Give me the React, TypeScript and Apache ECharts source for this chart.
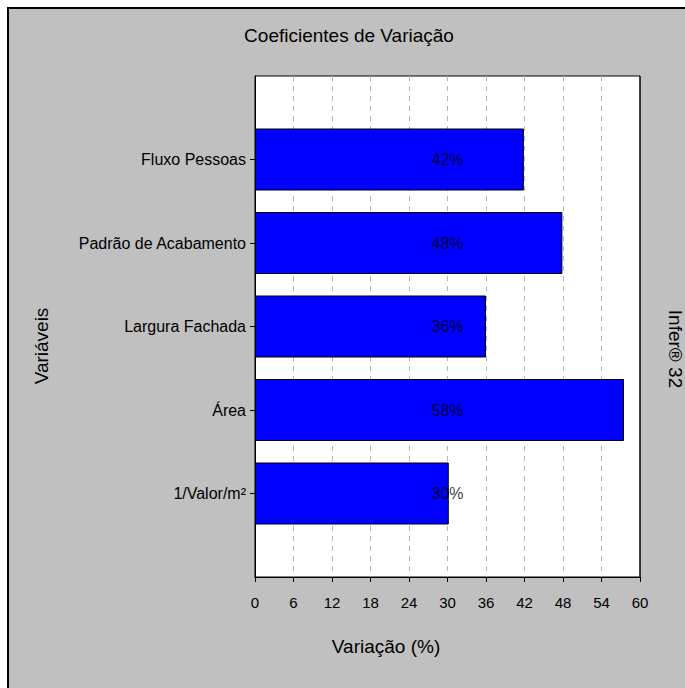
import React, { useEffect, useRef } from "react";
import * as echarts from "echarts";

const categories = ["Fluxo Pessoas", "Padrão de Acabamento", "Largura Fachada", "Área", "1/Valor/m²"];
const values = [41.9, 47.9, 36, 57.5, 30.2];
const labelTexts = ["42%", "48%", "36%", "58%", "30%"];
const xTicks = { min: 0, max: 60, interval: 6 };
const title = "Coeficientes de Variação";
const xName = "Variação (%)";
const yName = "Variáveis";
const sideText = "Infer® 32";

const FONT = "Arial, 'Liberation Sans', sans-serif";

export default function App() {
  const ref = useRef<HTMLDivElement>(null);
  useEffect(() => {
    if (!ref.current) return;
    const chart = echarts.init(ref.current, undefined, { renderer: "svg" });
    const yCats = ["", ...categories, ""];
    const barData = [null, ...values, null];
    const labelData = categories.map((c, i) => ({ value: [(xTicks.min + xTicks.max) / 2, c], name: labelTexts[i] }));
    chart.setOption({
      animation: false,
      backgroundColor: "#ffffff",
      textStyle: { fontFamily: FONT },
      graphic: [
        {
          type: "rect",
          z: -10,
          silent: true,
          shape: { x: 8, y: 8, width: 900, height: 900 },
          style: { fill: "#c0c0c0", stroke: "#000000", lineWidth: 2 },
        },
        {
          type: "text",
          x: 349,
          y: 35,
          style: { text: title, fill: "#000", font: `19px ${FONT}`, align: "center", verticalAlign: "middle" },
        },
        {
          type: "text",
          x: 386,
          y: 646,
          style: { text: xName, fill: "#000", font: `19px ${FONT}`, align: "center", verticalAlign: "middle" },
        },
        {
          type: "text",
          x: 41,
          y: 346,
          rotation: Math.PI / 2,
          style: { text: yName, fill: "#000", font: `19px ${FONT}`, align: "center", verticalAlign: "middle" },
        },
        {
          type: "text",
          x: 675,
          y: 349,
          rotation: -Math.PI / 2,
          style: { text: sideText, fill: "#000", font: `19px ${FONT}`, align: "center", verticalAlign: "middle" },
        },
        {
          type: "line",
          z: 50,
          silent: true,
          shape: { x1: 640, y1: 76, x2: 640, y2: 577 },
          style: { stroke: "#000", lineWidth: 1 },
        },
      ],
      grid: {
        left: 255,
        top: 76,
        width: 385,
        height: 501,
        show: true,
        backgroundColor: "#ffffff",
        borderColor: "#000000",
        borderWidth: 1,
      },
      xAxis: {
        type: "value",
        min: xTicks.min,
        max: xTicks.max,
        interval: xTicks.interval,
        axisLine: { show: true, lineStyle: { color: "#000" } },
        axisTick: { show: true, length: 5, lineStyle: { color: "#000" } },
        axisLabel: { color: "#000", fontSize: 15, margin: 18, fontFamily: FONT },
        splitLine: {
          show: true,
          showMinLine: false,
          showMaxLine: false,
          lineStyle: { color: "#b4b4b4", type: [5, 5], width: 1 },
        },
      },
      yAxis: {
        type: "category",
        data: yCats,
        inverse: true,
        boundaryGap: false,
        axisLine: { show: true, lineStyle: { color: "#000" } },
        axisTick: {
          show: true,
          length: 5,
          lineStyle: { color: "#000" },
          interval: (_i: number, v: string) => v !== "",
        },
        axisLabel: { color: "#000", fontSize: 16, margin: 9, fontFamily: FONT },
        splitLine: { show: false },
      },
      series: [
        {
          type: "bar",
          data: barData,
          barWidth: 62,
          itemStyle: { color: "#0000ff", borderColor: "#000", borderWidth: 1 },
        },
        {
          type: "scatter",
          data: labelData,
          symbolSize: 0,
          z: 5,
          label: {
            show: true,
            position: "inside",
            formatter: (p: any) => p.name,
            color: "#000",
            fontSize: 16,
            fontFamily: FONT,
          },
        },
      ],
    });
    return () => chart.dispose();
  }, []);
  return <div ref={ref} style={{ position: "fixed", left: 0, top: 0, width: 685, height: 688 }} />;
}
